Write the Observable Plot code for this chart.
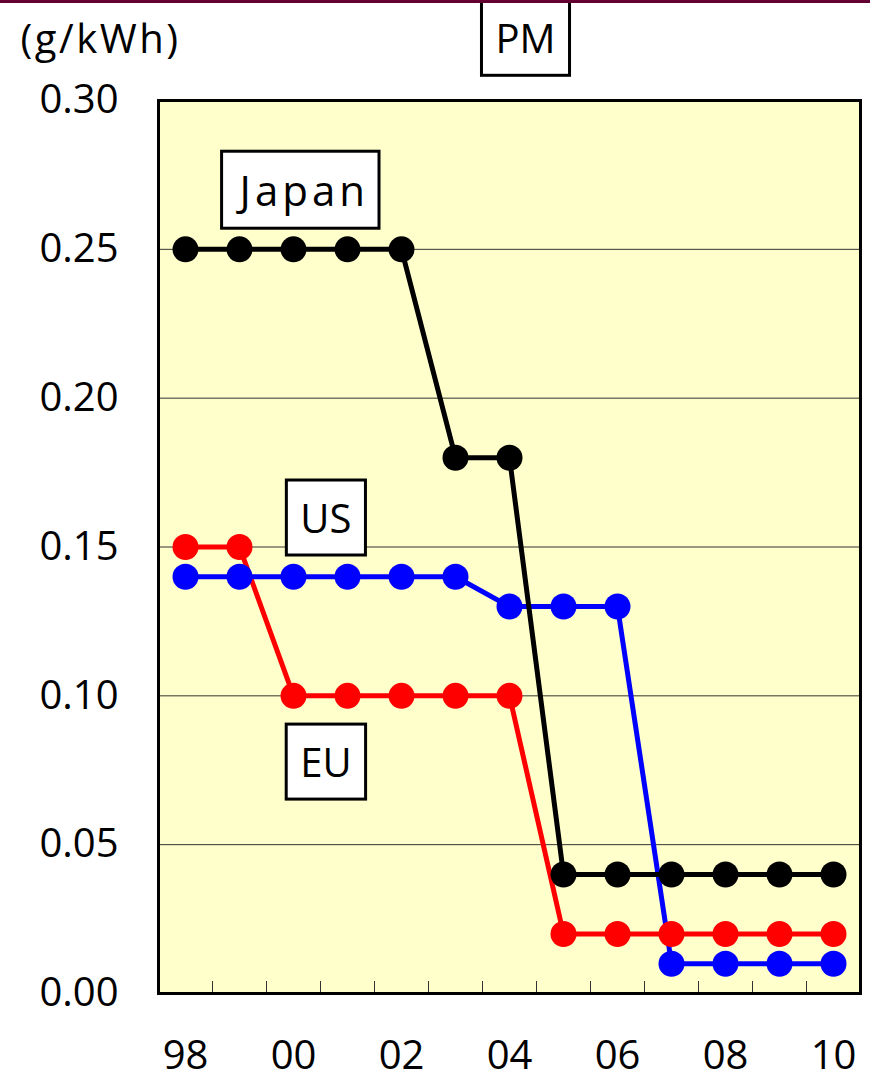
<!DOCTYPE html>
<html>
<head>
<meta charset="utf-8">
<script src="https://cdn.jsdelivr.net/npm/d3@7"></script>
<script src="https://cdn.jsdelivr.net/npm/@observablehq/plot@0.6"></script>
<style>
  html, body { margin: 0; padding: 0; background: #fff; }
  #topbar { position: absolute; left: 0; top: 0; width: 870px; height: 3px; background: #620031; }
  #chart { position: absolute; left: 0; top: 0; }
  svg { font-family: "Open Sans", sans-serif; }
</style>
</head>
<body>
<div id="chart"></div>
<div id="topbar"></div>
<script>
const years = [1998, 1999, 2000, 2001, 2002, 2003, 2004, 2005, 2006, 2007, 2008, 2009, 2010];
const japan = [0.25, 0.25, 0.25, 0.25, 0.25, 0.18, 0.18, 0.04, 0.04, 0.04, 0.04, 0.04, 0.04];
const us    = [0.14, 0.14, 0.14, 0.14, 0.14, 0.14, 0.13, 0.13, 0.13, 0.01, 0.01, 0.01, 0.01];
const eu    = [0.15, 0.15, 0.10, 0.10, 0.10, 0.10, 0.10, 0.02, 0.02, 0.02, 0.02, 0.02, 0.02];
const yTicks = [0, 0.05, 0.10, 0.15, 0.20, 0.25, 0.30];
const xLabelYears = [1998, 2000, 2002, 2004, 2006, 2008, 2010];
const seriesNames = ["Japan", "US", "EU"];
const seriesColors = ["#000000", "#0000ff", "#ff0000"];
const labelYear = [2000.2, 2000.6, 2000.6];
const labelValue = [0.269, 0.159, 0.077];
const unitLabel = "(g/kWh)";
const title = "PM";

const toRows = (vals) => years.map((y, i) => ({year: y, value: vals[i]}));
const jp = toRows(japan), usr = toRows(us), eur = toRows(eu);
const boundaries = years.slice(1).map(y => y - 0.5);
const labels = seriesNames.map((n, i) => ({name: n, year: labelYear[i], value: labelValue[i]}));

const plot = Plot.plot({
  width: 870,
  height: 1082,
  marginLeft: 158,
  marginRight: 10,
  marginTop: 100,
  marginBottom: 89,
  style: {fontFamily: "'Open Sans', sans-serif", background: "#fff", color: "#000"},
  x: {domain: [years[0] - 0.5, years[years.length - 1] + 0.5]},
  y: {domain: [0, 0.30]},
  marks: [
    Plot.frame({fill: "#ffffcc", stroke: null}),
    Plot.gridY(yTicks.slice(1, -1), {stroke: "#333", strokeOpacity: 1, strokeWidth: 1}),
    Plot.axisY({ticks: yTicks, tickSize: 0, tickPadding: 40, tickFormat: d3.format(".2f"), fontSize: 40, label: null}),
    Plot.axisX({ticks: boundaries, tickSize: 12, dy: -12, tickFormat: () => "", label: null, stroke: "#333"}),
    Plot.axisX({ticks: xLabelYears, tickSize: 0, tickPadding: 47, tickFormat: d => String(d % 100).padStart(2, "0"), fontSize: 40, label: null}),
    Plot.line(eur, {x: "year", y: "value", stroke: seriesColors[2], strokeWidth: 5}),
    Plot.line(usr, {x: "year", y: "value", stroke: seriesColors[1], strokeWidth: 5}),
    Plot.line(jp, {x: "year", y: "value", stroke: seriesColors[0], strokeWidth: 5}),
    Plot.dot(eur, {x: "year", y: "value", r: 13, fill: seriesColors[2], stroke: null}),
    Plot.dot(usr, {x: "year", y: "value", r: 13, fill: seriesColors[1], stroke: null}),
    Plot.dot(jp, {x: "year", y: "value", r: 13, fill: seriesColors[0], stroke: null}),
    Plot.frame({stroke: "#000", strokeWidth: 3}),
    Plot.text(labels, {x: "year", y: "value", text: "name", fontSize: 40, fill: "#000", lineAnchor: "middle"}),
    Plot.text([title], {frameAnchor: "top", dx: 16, dy: -60, fontSize: 40, fill: "#000", lineAnchor: "middle"}),
    Plot.text([unitLabel], {frameAnchor: "top-left", dx: -138, dy: -60, textAnchor: "start", lineAnchor: "middle", fontSize: 40, fill: "#000"})
  ]
});

document.getElementById("chart").appendChild(plot);

const boxed = new Set([...seriesNames, title]);
const spacing = {"Japan": 4, "(g/kWh)": 2.5};
const sizes = {"Japan": 42};
d3.select(plot).selectAll("text").each(function() {
  const txt = this.textContent;
  if (spacing[txt] != null) this.setAttribute("letter-spacing", spacing[txt]);
  if (sizes[txt] != null) this.setAttribute("font-size", sizes[txt]);
});
// draw boxes around labelled texts
d3.select(plot).selectAll("text").each(function() {
  if (!boxed.has(this.textContent)) return;
  const bb = this.getBBox();
  const padX = 14, padY = 10;
  const extra = spacing[this.textContent] || 0;
  const rect = document.createElementNS("http://www.w3.org/2000/svg", "rect");
  rect.setAttribute("x", bb.x - padX);
  rect.setAttribute("y", bb.y - padY);
  rect.setAttribute("width", bb.width + 2 * padX - extra);
  rect.setAttribute("height", bb.height + 2 * padY);
  rect.setAttribute("fill", "#fff");
  rect.setAttribute("stroke", "#000");
  rect.setAttribute("stroke-width", 3);
  const t = this.getAttribute("transform");
  if (t) rect.setAttribute("transform", t);
  this.parentNode.insertBefore(rect, this);
});
</script>
</body>
</html>
